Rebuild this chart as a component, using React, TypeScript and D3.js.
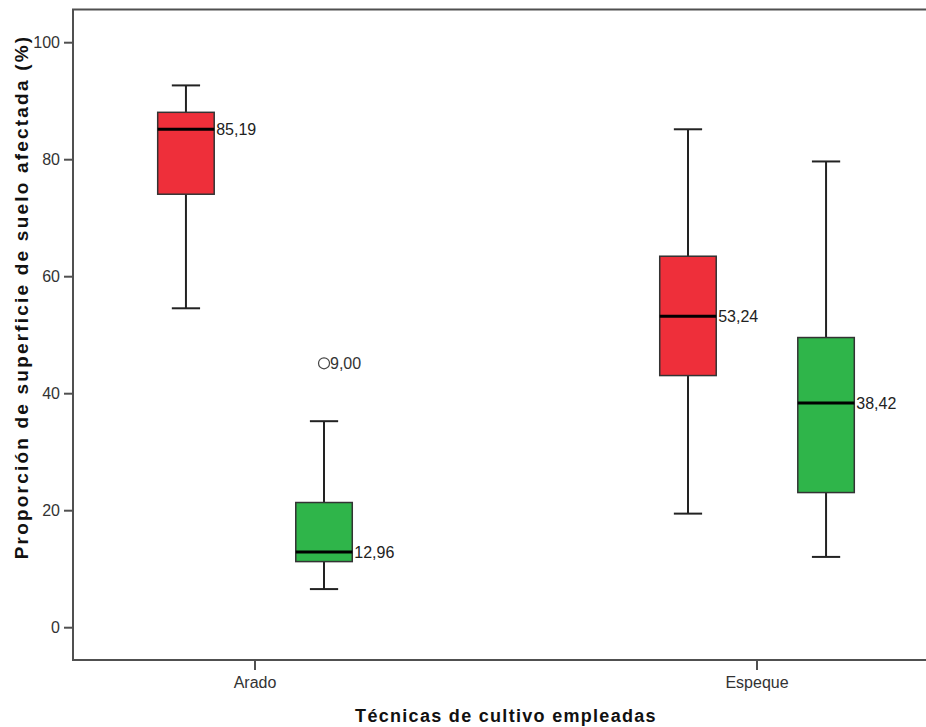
import React, { useRef, useEffect } from 'react';
import * as d3 from 'd3';

// categories on the x axis
const categories = ['Arado', 'Espeque'];
// two series per category (red and green boxes)
const seriesNames = ['rojo', 'verde'];
const seriesColors = ['#ee2f3a', '#2fb54a'];

// box statistics, per category, per series
const whiskerLow = [[54.6, 6.6], [19.5, 12.1]];
const q1 = [[74.1, 11.3], [43.1, 23.1]];
const median = [[85.19, 12.96], [53.24, 38.42]];
const q3 = [[88.1, 21.4], [63.5, 49.6]];
const whiskerHigh = [[92.7, 35.3], [85.2, 79.7]];

// outliers: category, series, value, case label
const outliers = [{ cat: 'Arado', series: 'verde', value: 45.2, label: '9,00' }];

const yTicks = [0, 20, 40, 60, 80, 100];

const fmt = (v: number) => v.toFixed(2).replace('.', ',');

const App = () => {
  const svgRef = useRef<SVGSVGElement>(null);

  useEffect(() => {
    const svg = d3.select(svgRef.current);
    svg.selectAll('*').remove();

    const width = 926;
    const height = 727;
    const left = 73;
    const top = 9.5;
    const right = 926;
    const bottom = 660;
    const font = 'Arial, "Liberation Sans", sans-serif';
    const frameColor = '#505050';

    svg.attr('width', width).attr('height', height);

    const y = d3.scaleLinear().domain([0, 100]).range([627.7, 42.7]);

    const x = d3.scalePoint<string>()
      .domain(categories)
      .range([left, 939])
      .padding(0.3625);

    const sub = d3.scaleBand<string>()
      .domain(seriesNames)
      .range([-136, 136])
      .paddingInner(0.23)
      .paddingOuter(0.1);

    const boxW = 56.5;
    const capW = boxW / 2;

    // frame
    svg.append('rect')
      .attr('x', left)
      .attr('y', top)
      .attr('width', right - left + 2)
      .attr('height', bottom - top)
      .attr('fill', 'none')
      .attr('stroke', frameColor)
      .attr('stroke-width', 2);

    // y axis ticks
    const yAxis = svg.append('g');
    yAxis.selectAll('line')
      .data(yTicks)
      .join('line')
      .attr('x1', left - 9)
      .attr('x2', left)
      .attr('y1', d => y(d))
      .attr('y2', d => y(d))
      .attr('stroke', frameColor)
      .attr('stroke-width', 2);
    yAxis.selectAll('text')
      .data(yTicks)
      .join('text')
      .attr('x', left - 13)
      .attr('y', d => y(d))
      .attr('dy', '0.36em')
      .attr('text-anchor', 'end')
      .attr('font-family', font)
      .attr('font-size', 16)
      .attr('fill', '#333')
      .text(d => d);

    // x axis ticks
    const xAxis = svg.append('g');
    xAxis.selectAll('line')
      .data(categories)
      .join('line')
      .attr('x1', d => x(d)!)
      .attr('x2', d => x(d)!)
      .attr('y1', bottom)
      .attr('y2', bottom + 10)
      .attr('stroke', frameColor)
      .attr('stroke-width', 2);
    xAxis.selectAll('text')
      .data(categories)
      .join('text')
      .attr('x', d => x(d)!)
      .attr('y', 688)
      .attr('text-anchor', 'middle')
      .attr('font-family', font)
      .attr('font-size', 16)
      .attr('fill', '#333')
      .text(d => d);

    // axis titles
    svg.append('text')
      .attr('x', 506)
      .attr('y', 722)
      .attr('text-anchor', 'middle')
      .attr('font-family', font)
      .attr('font-weight', 'bold')
      .attr('font-size', 18)
      .attr('letter-spacing', 1.3)
      .attr('fill', '#111')
      .text('Técnicas de cultivo empleadas');

    svg.append('text')
      .attr('transform', 'translate(28,297) rotate(-90)')
      .attr('text-anchor', 'middle')
      .attr('font-family', font)
      .attr('font-weight', 'bold')
      .attr('font-size', 19)
      .attr('letter-spacing', 2.2)
      .attr('fill', '#111')
      .text('Proporción de superficie de suelo afectada (%)');

    // boxes
    const boxes = categories.flatMap((c, ci) =>
      seriesNames.map((s, si) => ({
        cx: x(c)! + sub(s)! + sub.bandwidth() / 2,
        lo: whiskerLow[ci][si],
        q1: q1[ci][si],
        med: median[ci][si],
        q3: q3[ci][si],
        hi: whiskerHigh[ci][si],
        color: seriesColors[si],
      }))
    );

    const g = svg.append('g');
    boxes.forEach(b => {
      const bg = g.append('g');
      // whiskers
      bg.append('line')
        .attr('x1', b.cx).attr('x2', b.cx)
        .attr('y1', y(b.hi)).attr('y2', y(b.q3))
        .attr('stroke', '#222').attr('stroke-width', 2);
      bg.append('line')
        .attr('x1', b.cx).attr('x2', b.cx)
        .attr('y1', y(b.q1)).attr('y2', y(b.lo))
        .attr('stroke', '#222').attr('stroke-width', 2);
      [b.hi, b.lo].forEach(v => {
        bg.append('line')
          .attr('x1', b.cx - capW / 2).attr('x2', b.cx + capW / 2)
          .attr('y1', y(v)).attr('y2', y(v))
          .attr('stroke', '#222').attr('stroke-width', 2);
      });
      bg.append('rect')
        .attr('x', b.cx - boxW / 2)
        .attr('y', y(b.q3))
        .attr('width', boxW)
        .attr('height', y(b.q1) - y(b.q3))
        .attr('fill', b.color)
        .attr('stroke', '#333')
        .attr('stroke-width', 1.5);
      bg.append('line')
        .attr('x1', b.cx - boxW / 2).attr('x2', b.cx + boxW / 2)
        .attr('y1', y(b.med)).attr('y2', y(b.med))
        .attr('stroke', '#000').attr('stroke-width', 3);
      bg.append('text')
        .attr('x', b.cx + boxW / 2 + 2)
        .attr('y', y(b.med))
        .attr('dy', '0.36em')
        .attr('font-family', font)
        .attr('font-size', 16)
        .attr('fill', '#222')
        .text(fmt(b.med));
    });

    // outliers
    outliers.forEach(o => {
      const cx = x(o.cat)! + sub(o.series)! + sub.bandwidth() / 2;
      svg.append('circle')
        .attr('cx', cx)
        .attr('cy', y(o.value))
        .attr('r', 5.5)
        .attr('fill', 'none')
        .attr('stroke', '#444')
        .attr('stroke-width', 1.2);
      svg.append('text')
        .attr('x', cx + 6)
        .attr('y', y(o.value))
        .attr('dy', '0.36em')
        .attr('font-family', font)
        .attr('font-size', 16)
        .attr('fill', '#333')
        .text(o.label);
    });
  }, []);

  return (
    <div style={{ position: 'absolute', left: 0, top: 0 }}>
      <svg ref={svgRef}></svg>
    </div>
  );
};

export default App;
